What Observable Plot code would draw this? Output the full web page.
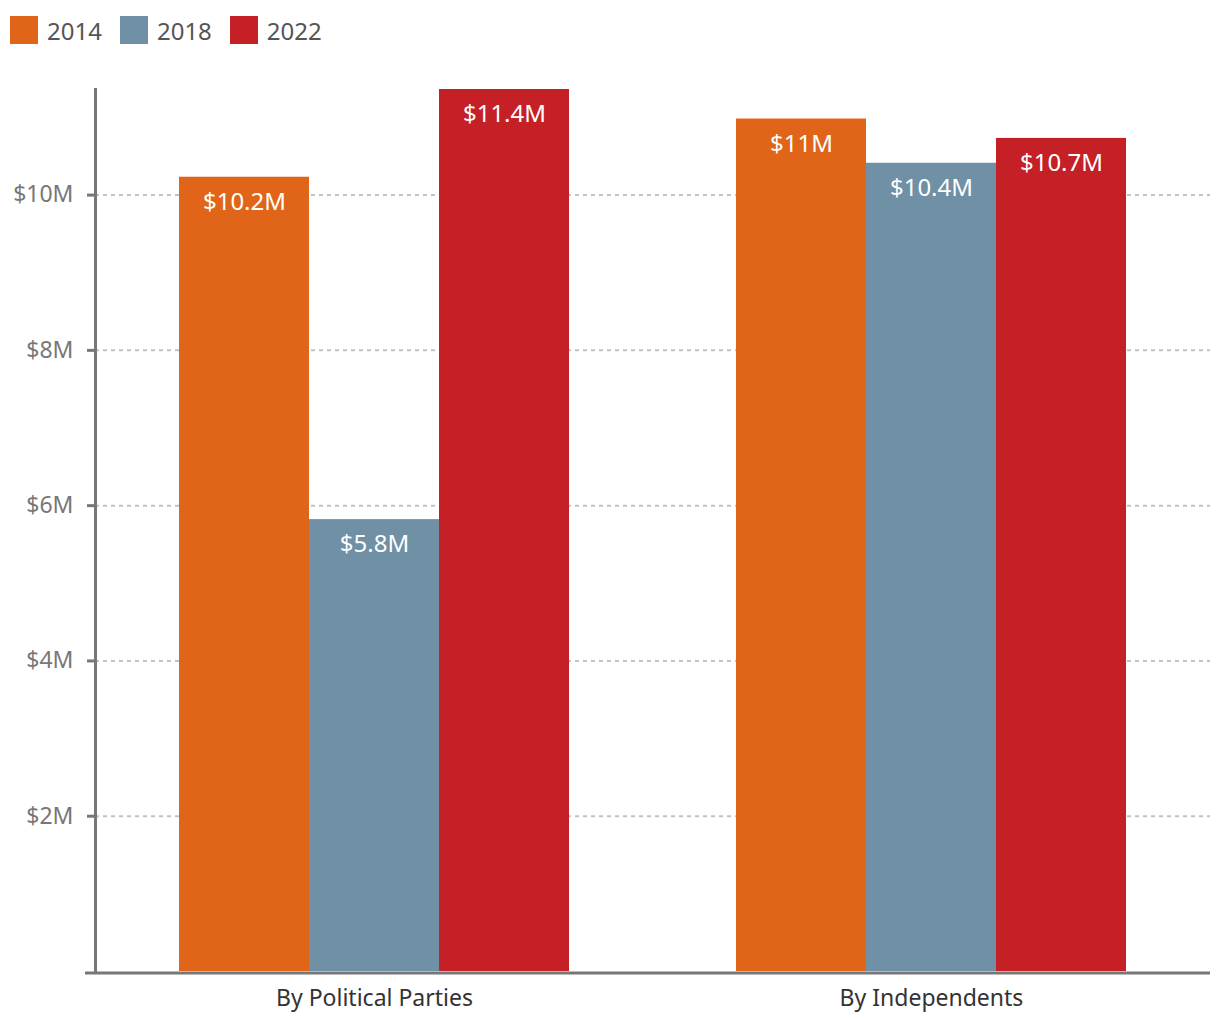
<!DOCTYPE html>
<html>
<head>
<meta charset="utf-8">
<script src="https://cdn.jsdelivr.net/npm/d3@7"></script>
<script src="https://cdn.jsdelivr.net/npm/@observablehq/plot@0.6"></script>
<style>
  body { margin: 0; background: #fff; font-family: "Noto Sans", sans-serif; }
  #legend { height: 60px; display: flex; align-items: center; padding-left: 10px; box-sizing: border-box; }
  .item { display: flex; align-items: center; margin-right: 18px; font-size: 24px; color: #555; }
  .sw { width: 28px; height: 28px; margin-right: 9px; }
  #chart { position: relative; width: 1220px; height: 960px; }
  #chart svg { display: block; position: absolute; left: 0; top: 0; }
  g[aria-label^="y-axis"] text { fill: #777; }
  g[aria-label^="y-axis"] line, g[aria-label^="y-axis"] path { stroke: #777; stroke-width: 3px; stroke-opacity: 1; }
  g[aria-label^="x-axis"] text { fill: #333; }
  g[aria-label="bar-label"] text { text-shadow: 0 0 3px rgba(0,0,0,0.75); }
</style>
</head>
<body>
<div id="legend"></div>
<div id="chart"></div>
<script>
const categories = ["By Political Parties", "By Independents"];
const years = ["2014", "2018", "2022"];
const partiesValues = [10.23, 5.82, 11.36];
const independentsValues = [10.98, 10.41, 10.73];
const colors = ["#E06519", "#6F90A5", "#C42026"];
const yTicks = [2, 4, 6, 8, 10];

const seriesByCategory = [partiesValues, independentsValues];
const data = categories.flatMap((c, i) =>
  years.map((y, j) => ({category: c, year: y, value: seriesByCategory[i][j]}))
);
const fmt = v => `$${+v.toFixed(1)}M`;

// legend
const legend = document.getElementById("legend");
years.forEach((y, i) => {
  const it = document.createElement("div");
  it.className = "item";
  it.innerHTML = `<span class="sw" style="background:${colors[i]}"></span><span>${y}</span>`;
  legend.appendChild(it);
});

const common = {
  width: 1220,
  height: 960,
  marginLeft: 95,
  marginRight: 10,
  marginTop: 29,
  marginBottom: 49,
  style: {fontFamily: "Noto Sans, sans-serif", fontSize: "23px", background: "transparent"}
};
const yDomain = [0, 11.36];

// background: grid, axes
const back = Plot.plot({
  ...common,
  x: {domain: categories, paddingInner: 0.3, paddingOuter: 0.15},
  y: {domain: yDomain},
  marks: [
    Plot.ruleY(yTicks, {stroke: "#bcc4c9", strokeDasharray: "4,4", strokeWidth: 2}),
    Plot.axisY(yTicks, {tickFormat: d => `$${d}M`, tickSize: 8, tickPadding: 14, stroke: "#777", strokeWidth: 3, fill: "#777", fontSize: 23, label: null}),
    Plot.axisX({tickSize: 0, tickPadding: 18, fill: "#333", fontSize: 23, label: null}),
    Plot.frame({anchor: "left", stroke: "#777", strokeWidth: 3}),
    Plot.ruleY([0], {stroke: "#777", strokeWidth: 3, insetLeft: -10, dy: 1.5})
  ]
});

// foreground: grouped bars and labels
const front = Plot.plot({
  ...common,
  fx: {domain: categories, paddingInner: 0.3, paddingOuter: 0.15, axis: null},
  x: {domain: years, padding: 0, axis: null},
  y: {domain: yDomain, axis: null},
  color: {domain: years, range: colors},
  marks: [
    Plot.barY(data, {fx: "category", x: "year", y: "value", fill: "year"}),
    Plot.text(data, {fx: "category", x: "year", y: "value", text: d => fmt(d.value), dy: 25, fill: "white", fontSize: 24, ariaLabel: "bar-label"})
  ]
});
const host = document.getElementById("chart");
host.appendChild(back);
host.appendChild(front);
</script>
</body>
</html>
